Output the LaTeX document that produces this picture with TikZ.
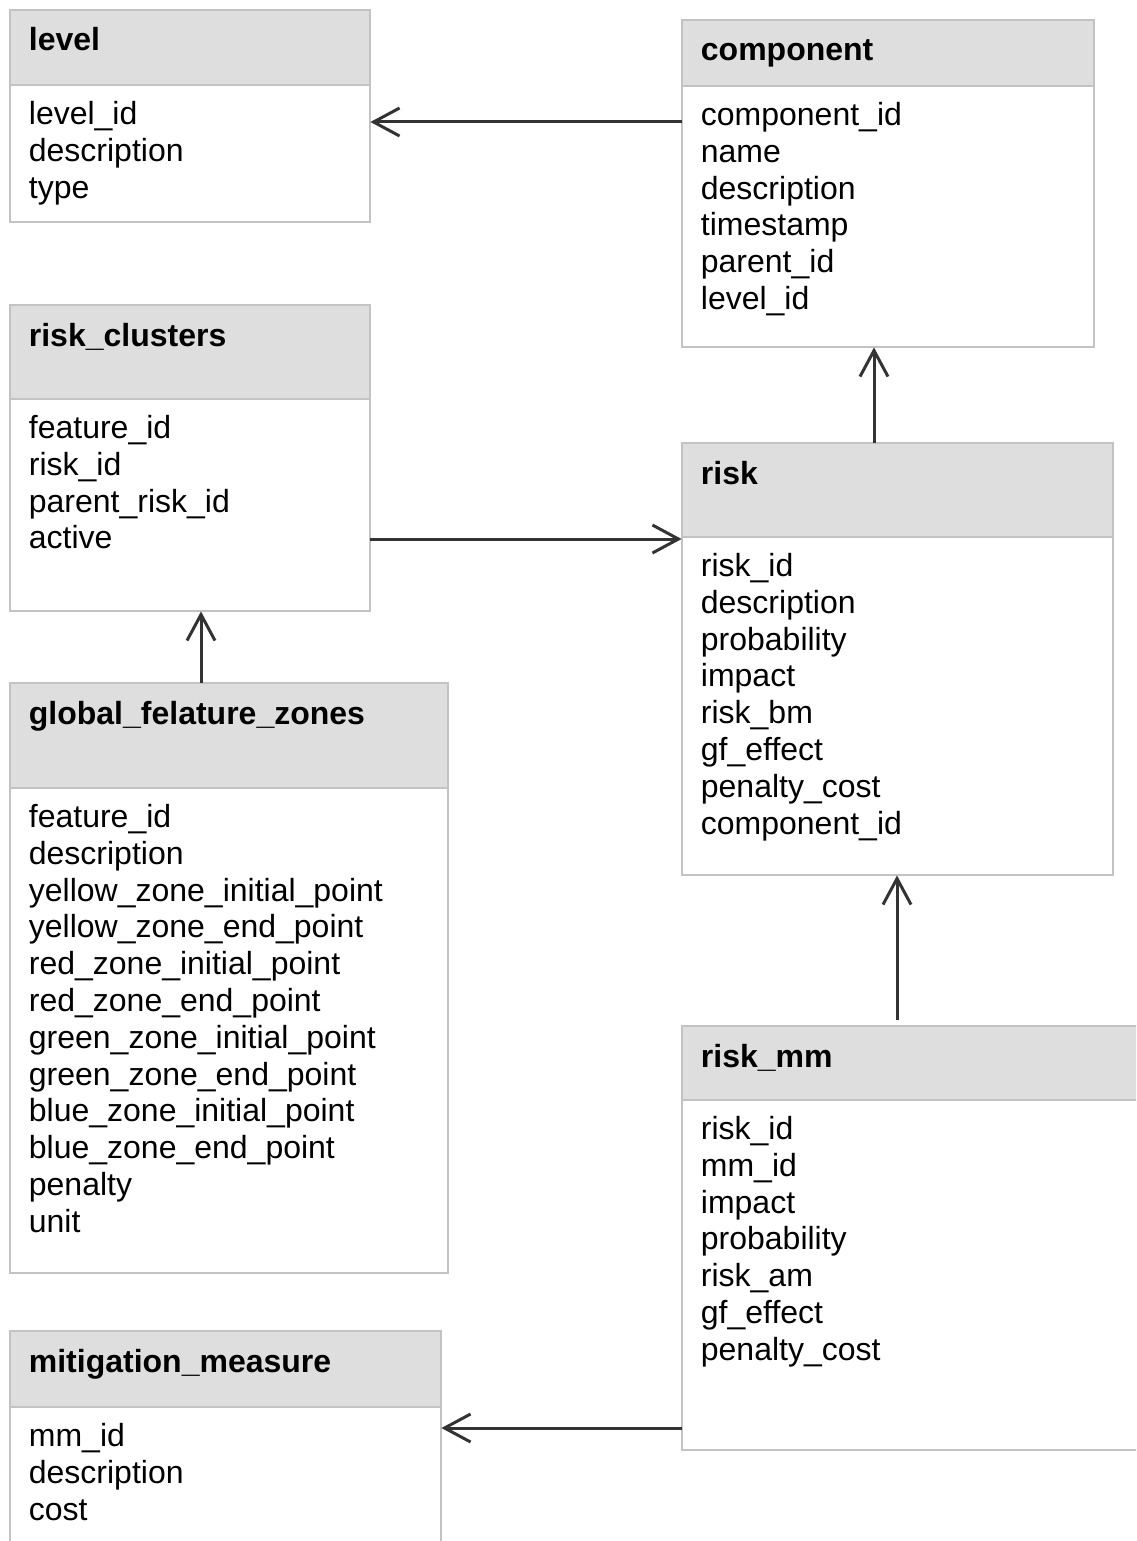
\documentclass[tikz,border=0pt]{standalone}
\usepackage{fontspec}
\setmainfont{Liberation Sans}
\usetikzlibrary{arrows.meta}

\definecolor{headfill}{HTML}{DEDEDE}
\definecolor{boxline}{HTML}{C3C3C3}
\definecolor{linkcol}{HTML}{333333}

\tikzset{
  tablebox/.style={draw=boxline, line width=1.3pt, inner sep=0pt, outer sep=0pt},
  headline/.style={draw=boxline, line width=1.3pt},
  tabletitle/.style={inner sep=0pt, anchor=base west,
    font=\fontsize{16pt}{18.4pt}\selectfont\bfseries},
  fieldtext/.style={inner sep=0pt, anchor=base west,
    font=\fontsize{16pt}{18.4pt}\selectfont},
  link/.style={draw=linkcol, line width=1.5pt, shorten >=0.2pt,
    -{Straight Barb[length=13pt,width=14pt]}},
}

% #1 name, #2 left, #3 top, #4 right, #5 bottom, #6 header bottom, #7 title, #8 fields
\newcommand\erdtable[8]{%
  \fill[headfill] (#2,#3) rectangle (#4,#6);
  \node[tablebox, anchor=north west,
        minimum width={(#4-#2)*0.5pt}, minimum height={(#5-#3)*0.5pt}]
        (#1) at (#2,#3) {};
  \draw[headline] (#2,#6) -- (#4,#6);
  \node[tabletitle] (#1-title) at (#2+18.5,#3+41) {#7};
  \foreach \f [count=\i from 0] in {#8}
    \node[fieldtext] (#1-f\i) at (#2+18.5,#6+39.5+36.8*\i) {\f};
}

\begin{document}
\begin{tikzpicture}[x=0.5pt,y=-0.5pt]
\clip (0,0) rectangle (1136,1541);
\fill[white] (0,0) rectangle (1136,1541);

\erdtable{level}{10}{10}{370}{222}{85}{level}
  {level\_id,description,type}
\erdtable{component}{682}{20}{1094}{347}{86}{component}
  {component\_id,name,description,timestamp,parent\_id,level\_id}
\erdtable{riskclusters}{10}{305}{370}{611}{399}{risk\_clusters}
  {feature\_id,risk\_id,parent\_risk\_id,active}
\erdtable{risk}{682}{443}{1113}{875}{537}{risk}
  {risk\_id,description,probability,impact,risk\_bm,gf\_effect,penalty\_cost,component\_id}
\erdtable{gfz}{10}{683}{448}{1273}{788}{global\_felature\_zones}
  {feature\_id,description,yellow\_zone\_initial\_point,yellow\_zone\_end\_point,red\_zone\_initial\_point,red\_zone\_end\_point,green\_zone\_initial\_point,green\_zone\_end\_point,blue\_zone\_initial\_point,blue\_zone\_end\_point,penalty,unit}
\erdtable{riskmm}{682}{1026}{1160}{1450}{1100}{risk\_mm}
  {risk\_id,mm\_id,impact,probability,risk\_am,gf\_effect,penalty\_cost}
\erdtable{mitigation}{10}{1331}{441}{1570}{1407}{mitigation\_measure}
  {mm\_id,description,cost}

% relations
\draw[link] (component.west |- 0,122) -- (level.east |- 0,122);
\draw[link] (risk.north -| 874,0) -- (component.south -| 874,0);
\draw[link] (riskclusters.east |- 0,539) -- (risk.west |- 0,539);
\draw[link] (gfz.north -| 201,0) -- (riskclusters.south -| 201,0);
\draw[link, shorten <=3pt] (riskmm.north -| 897,0) -- (risk.south -| 897,0);
\draw[link] (riskmm.west |- 0,1428) -- (mitigation.east |- 0,1428);
\end{tikzpicture}
\end{document}
